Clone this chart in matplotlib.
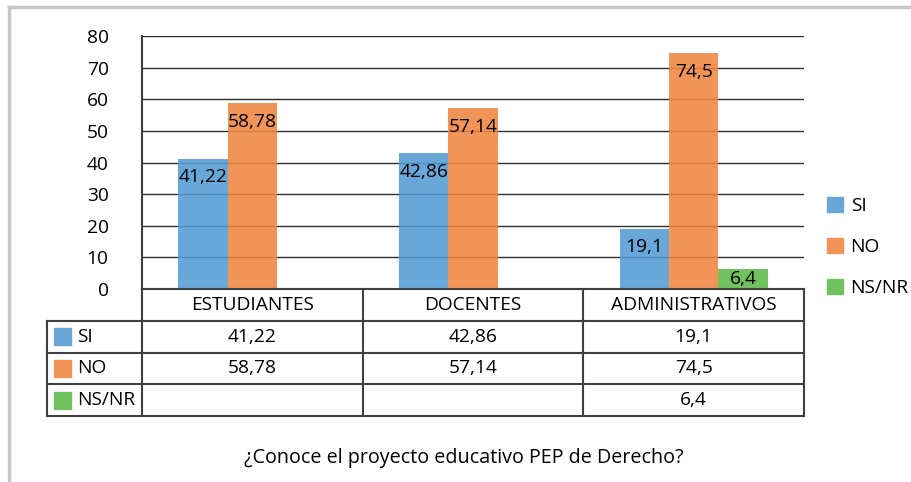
import matplotlib
matplotlib.use("Agg")
import matplotlib.pyplot as plt
from matplotlib.patches import Rectangle
from matplotlib.lines import Line2D
import numpy as np

categories = ["ESTUDIANTES", "DOCENTES", "ADMINISTRATIVOS"]
series_names = ["SI", "NO", "NS/NR"]
si_values = [41.22, 42.86, 19.1]
no_values = [58.78, 57.14, 74.5]
nsnr_values = [None, None, 6.4]
yticks = [0, 10, 20, 30, 40, 50, 60, 70, 80]
title = "¿Conoce el proyecto educativo PEP de Derecho?"

bar_colors = ["#539BD3", "#F08540", "#5DBA49"]
shown_colors = ["#68A7D8", "#F29457", "#70C25F"]
line_col = "#404040"

plt.rcParams["font.family"] = ["Open Sans", "DejaVu Sans"]
FS = 13.8

W, H = 912, 482
fig = plt.figure(figsize=(W / 100, H / 100), dpi=100)


def px_axes(left, top, right, bottom):
    return fig.add_axes([left / W, 1 - bottom / H, (right - left) / W, (bottom - top) / H])


# outer frame (top and left edges only)
fig.add_artist(Line2D([9 / W, 1], [1 - 7 / H, 1 - 7 / H], color="#c4c8c8", lw=2.5))
fig.add_artist(Line2D([9 / W, 9 / W], [0, 1 - 7 / H], color="#c4c8c8", lw=2.5))

ax = px_axes(142, 36, 804, 289)
x = np.arange(len(categories))
bw = 0.224
series = [si_values, no_values, nsnr_values]
for i, (vals, col) in enumerate(zip(series, bar_colors)):
    xs = [xi + (i - 1) * bw for xi, v in zip(x, vals) if v is not None]
    vs = [v for v in vals if v is not None]
    ax.bar(xs, vs, width=bw, color=col, alpha=0.88, zorder=2)
    for xi, v in zip(xs, vs):
        label = f"{v:g}".replace(".", ",")
        if v < 10:
            ax.text(xi, v / 2, label, ha="center", va="center", fontsize=FS, zorder=3)
        else:
            ax.annotate(label, (xi, v), xytext=(0, -7), textcoords="offset points",
                        ha="center", va="top", fontsize=FS, zorder=3)

ax.set_xlim(-0.5, 2.5)
ax.set_ylim(0, 80)
ax.set_yticks(yticks)
ax.set_yticklabels([str(t) for t in yticks], fontsize=FS)
ax.tick_params(axis="y", length=0, pad=24)
ax.set_xticks([])
ax.grid(axis="y", color="#303030", lw=1, zorder=1)
ax.set_axisbelow(True)
for s in ["top", "right"]:
    ax.spines[s].set_visible(False)
ax.spines["left"].set_color(line_col)
ax.spines["left"].set_linewidth(1.5)
ax.spines["bottom"].set_color(line_col)
ax.spines["bottom"].set_linewidth(1.5)

# legend on the right
handles = [Rectangle((0, 0), 1, 1, color=c) for c in shown_colors]
fig.legend(handles, series_names, loc="center left", bbox_to_anchor=(819 / W, 1 - 247 / H),
           frameon=False, fontsize=FS, handlelength=0.85, handleheight=0.85,
           handletextpad=0.4, labelspacing=1.2, borderaxespad=0)

# data table below
tax = px_axes(142, 289, 804, 416)
tax.set_xlim(-0.5, 2.5)
tax.set_ylim(0, 4)
tax.axis("off")
x_left = -0.5 - 95 / 220.7
lw = 1.5
for yv in [0, 1, 2, 3]:
    tax.plot([x_left, 2.5], [yv, yv], color=line_col, lw=lw, clip_on=False, solid_capstyle="projecting")
for xv in [-0.5, 0.5, 1.5, 2.5]:
    tax.plot([xv, xv], [0, 4], color=line_col, lw=lw, clip_on=False, solid_capstyle="projecting")
tax.plot([x_left, x_left], [0, 3], color=line_col, lw=lw, clip_on=False, solid_capstyle="projecting")

for xi, cat in zip(x, categories):
    tax.text(xi, 3.5, cat, ha="center", va="center", fontsize=FS)
for r, (name, vals, col) in enumerate(zip(series_names, series, shown_colors)):
    yc = 2.5 - r
    tax.add_patch(Rectangle((x_left + 0.033, yc - 0.27), 0.077, 0.54, color=col, clip_on=False))
    tax.text(x_left + 0.135, yc, name, ha="left", va="center", fontsize=FS)
    for xi, v in zip(x, vals):
        if v is not None:
            tax.text(xi, yc, f"{v:g}".replace(".", ","), ha="center", va="center", fontsize=FS)

fig.text(464 / W, 1 - 458 / H, title, ha="center", va="center", fontsize=FS + 0.4)

fig.savefig("out.png", dpi=100)
